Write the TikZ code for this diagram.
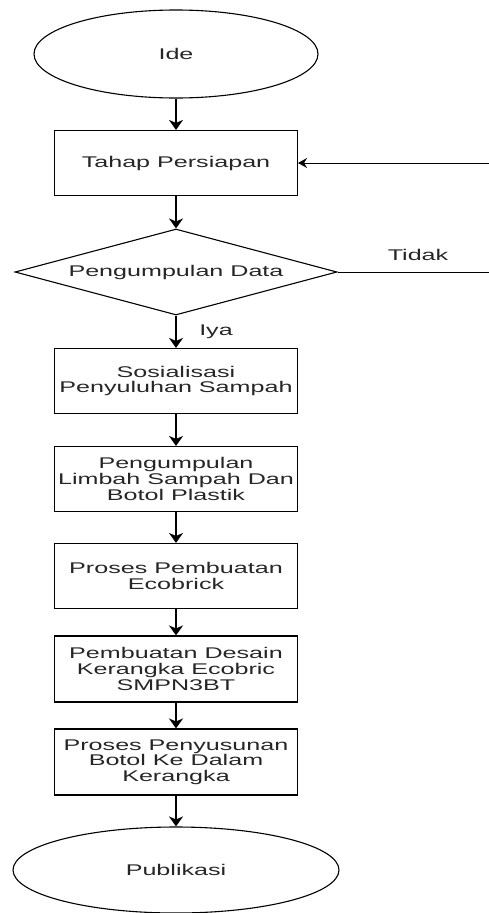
\documentclass[tikz,border=0pt]{standalone}
\usepackage{fontspec}
\setmainfont[FakeStretch=1.62]{Liberation Sans}
\usetikzlibrary{shapes.geometric,arrows.meta}
\newcommand\fsz{\fontsize{15.5pt}{15.7pt}\selectfont}
\tikzset{
  proc/.style={draw, line width=1.1pt, rectangle, minimum width=243pt, minimum height=65pt, inner sep=0pt, align=center, font=\fsz, text=black!85},
  term/.style={draw, line width=1.1pt, ellipse, inner sep=0pt, font=\fsz, text=black!85},
  decis/.style={draw, line width=1.1pt, diamond, minimum width=322pt, minimum height=86pt, inner sep=0pt, font=\fsz, text=black!85},
  lbl/.style={font=\fsz, text=black!85, inner sep=0pt},
  arr/.style={line width=1.4pt, -{Stealth[length=10pt,width=14pt,inset=3pt]}},
  thinarr/.style={line width=0.9pt, -{Stealth[length=9pt,width=10pt,inset=3pt]}}
}
\begin{document}
\begin{tikzpicture}[x=1pt,y=-1pt]
\useasboundingbox (0,0) rectangle (489,913);
\node[term, minimum width=284pt, minimum height=88pt] (ide) at (176,54) {Ide};
\node[proc] (tahap) at (176,163) {Tahap Persiapan};
\node[decis] (dec) at (176,272) {\makebox[0pt]{Pengumpulan Data}};
\node[proc] (sos) at (176,381) {Sosialisasi\\Penyuluhan Sampah};
\node[proc] (peng) at (176,479) {Pengumpulan\\Limbah Sampah Dan\\Botol Plastik};
\node[proc] (pros) at (176,576) {Proses Pembuatan\\Ecobrick};
\node[proc, minimum height=66pt] (des) at (176,669) {Pembuatan Desain\\Kerangka Ecobric\\SMPN3BT};
\node[proc, minimum height=66pt] (susun) at (176,762) {Proses Penyusunan\\Botol Ke Dalam\\Kerangka};
\node[term, minimum width=326pt, minimum height=86pt] (pub) at (176,870) {Publikasi};
\node[lbl] (tidak) at (418,255) {Tidak};
\node[lbl] (iya) at (216,332) {Iya};
\coordinate (r1) at (496,272);
\coordinate (r2) at (496,163);
\draw[arr] (ide) -- (tahap);
\draw[arr] (tahap) -- (dec);
\draw[arr] (dec) -- (sos);
\draw[arr] (sos) -- (peng);
\draw[arr] (peng) -- (pros);
\draw[arr] (pros) -- (des);
\draw[arr] (des) -- (susun);
\draw[arr] (susun) -- (pub);
\draw[thinarr] (dec.east) -- (r1) -- (r2) -- (tahap.east);
\end{tikzpicture}
\end{document}
